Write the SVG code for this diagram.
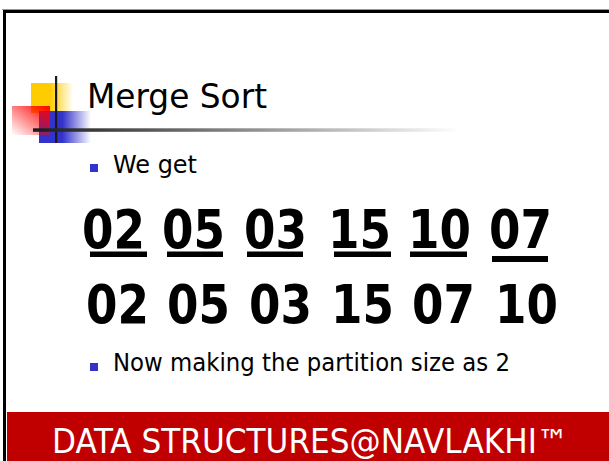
<svg xmlns="http://www.w3.org/2000/svg" width="609" height="461" viewBox="0 0 609 461">
  <defs>
    <linearGradient id="yellowFade" x1="0" y1="0" x2="1" y2="0">
      <stop offset="0" stop-color="#FFCC00"/>
      <stop offset="0.45" stop-color="#FFCC00"/>
      <stop offset="1" stop-color="#FFCC00" stop-opacity="0"/>
    </linearGradient>
    <linearGradient id="redFade" x1="1" y1="0" x2="0" y2="1">
      <stop offset="0" stop-color="#FF0000"/>
      <stop offset="1" stop-color="#FF0000" stop-opacity="0"/>
    </linearGradient>
    <linearGradient id="blueFade" x1="0" y1="0" x2="1" y2="0">
      <stop offset="0" stop-color="#3333CC"/>
      <stop offset="0.45" stop-color="#3333CC"/>
      <stop offset="1" stop-color="#3333CC" stop-opacity="0"/>
    </linearGradient>
    <linearGradient id="ruleFade" x1="33" y1="0" x2="460" y2="0" gradientUnits="userSpaceOnUse">
      <stop offset="0" stop-color="#1a1a1a"/>
      <stop offset="1" stop-color="#ffffff"/>
    </linearGradient>
    <style>
      .title { font-family: "DejaVu Sans", Verdana, sans-serif; font-size: 34px; fill: #000; }
      .body { font-family: "DejaVu Sans", Verdana, sans-serif; font-size: 25px; fill: #000; }
      .num { font-family: "DejaVu Sans", Verdana, sans-serif; font-weight: bold; font-size: 54px; fill: #000; }
      .bullet { fill: #3333CC; }
      .uline { fill: #000; }
      .footer { font-family: "DejaVu Sans Condensed", "DejaVu Sans", sans-serif; font-size: 33px; fill: #fff; }
    </style>
  </defs>

  <!-- page background and frame -->
  <rect x="0" y="0" width="609" height="461" fill="#fff"/>
  <rect x="2" y="9" width="607" height="1" fill="#999"/>
  <rect x="3" y="10" width="606" height="3" fill="#000"/>
  <rect x="3" y="10" width="3" height="451" fill="#000"/>

  <!-- title ornament -->
  <g id="logo">
    <rect x="31" y="83" width="42" height="30" fill="url(#yellowFade)"/>
    <rect x="39" y="111" width="52" height="32" fill="url(#blueFade)"/>
    <rect x="12" y="106" width="38" height="29" fill="url(#redFade)"/>
    <rect x="55" y="76" width="2.2" height="67" fill="#1a1a1a"/>
    <rect x="33" y="128.3" width="427" height="3.5" fill="url(#ruleFade)"/>
  </g>

  <g id="title">
    <text class="title" x="87" y="108" textLength="180" lengthAdjust="spacingAndGlyphs">Merge Sort</text>
  </g>

  <g id="bullet-we-get">
    <rect class="bullet" x="90" y="164" width="8" height="8"/>
    <text class="body" x="113" y="173" textLength="84" lengthAdjust="spacingAndGlyphs">We get</text>
  </g>

  <!-- first row: partitions of size 1, each underlined -->
  <g id="row-1">
    <text class="num" x="82" y="248" textLength="63" lengthAdjust="spacingAndGlyphs">02</text>
    <text class="num" x="162" y="248" textLength="63" lengthAdjust="spacingAndGlyphs">05</text>
    <text class="num" x="244" y="248" textLength="63" lengthAdjust="spacingAndGlyphs">03</text>
    <text class="num" x="328" y="248" textLength="63" lengthAdjust="spacingAndGlyphs">15</text>
    <text class="num" x="408" y="248" textLength="63" lengthAdjust="spacingAndGlyphs">10</text>
    <text class="num" x="489" y="248" textLength="63" lengthAdjust="spacingAndGlyphs">07</text>
    <rect class="uline" x="90" y="251.5" width="57" height="5.5"/>
    <rect class="uline" x="167" y="251.5" width="56" height="5.5"/>
    <rect class="uline" x="247" y="251.5" width="56" height="5.5"/>
    <rect class="uline" x="334" y="251.5" width="57" height="5.5"/>
    <rect class="uline" x="410" y="251.5" width="57" height="5.5"/>
    <rect class="uline" x="492" y="256" width="56" height="6"/>
  </g>

  <!-- second row: result after merging -->
  <g id="row-2">
    <text class="num" x="86" y="323" textLength="63" lengthAdjust="spacingAndGlyphs">02</text>
    <text class="num" x="167" y="323" textLength="63" lengthAdjust="spacingAndGlyphs">05</text>
    <text class="num" x="249" y="323" textLength="63" lengthAdjust="spacingAndGlyphs">03</text>
    <text class="num" x="331" y="323" textLength="63" lengthAdjust="spacingAndGlyphs">15</text>
    <text class="num" x="412" y="323" textLength="63" lengthAdjust="spacingAndGlyphs">07</text>
    <text class="num" x="495" y="323" textLength="63" lengthAdjust="spacingAndGlyphs">10</text>
  </g>

  <g id="bullet-partition">
    <rect class="bullet" x="90" y="363" width="8" height="8"/>
    <text class="body" x="113" y="371" textLength="397" lengthAdjust="spacingAndGlyphs">Now making the partition size as 2</text>
  </g>

  <!-- footer band -->
  <g id="footer">
    <rect x="7" y="412" width="602" height="49" fill="#C00000"/>
    <text class="footer" x="52" y="453" textLength="516" lengthAdjust="spacingAndGlyphs">DATA STRUCTURES@NAVLAKHI™</text>
  </g>
</svg>
